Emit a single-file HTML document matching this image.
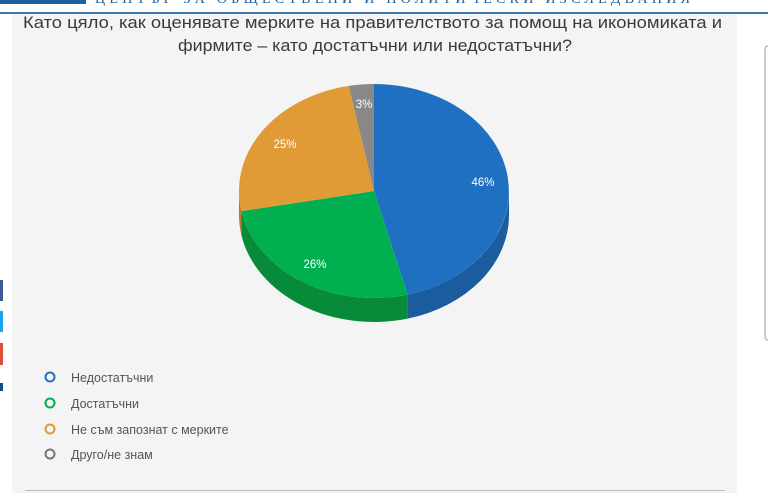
<!DOCTYPE html>
<html><head><meta charset="utf-8"><style>
html,body{margin:0;padding:0;background:#fff;width:768px;height:493px;overflow:hidden}
svg{display:block}
</style></head><body>
<svg width="768" height="493" viewBox="0 0 768 493" xmlns="http://www.w3.org/2000/svg">
<rect x="12" y="14" width="725" height="479" fill="#f4f4f4"/>
<rect x="0" y="0" width="86" height="4" fill="#1f5f99"/>
<text x="95" y="3" font-family="Liberation Serif, serif" font-size="14" fill="#1f5f99" textLength="595">ЦЕНТЪР ЗА ОБЩЕСТВЕНИ И ПОЛИТИЧЕСКИ ИЗСЛЕДВАНИЯ</text>
<rect x="0" y="12" width="768" height="2" fill="#3a78b0"/>
<text x="23" y="28" font-family="Liberation Sans Narrow, Liberation Sans, sans-serif" font-size="17" fill="#3a3a3a" textLength="699" lengthAdjust="spacingAndGlyphs">Като цяло, как оценявате мерките на правителството за помощ на икономиката и</text>
<text x="178" y="51" font-family="Liberation Sans Narrow, Liberation Sans, sans-serif" font-size="17" fill="#3a3a3a" textLength="394" lengthAdjust="spacingAndGlyphs">фирмите – като достатъчни или недостатъчни?</text>
<path d="M768,46 Q765,46 765,50 L765,336 Q765,340 768,340" fill="none" stroke="#bbb" stroke-width="1.5"/>
<rect x="0" y="280" width="3" height="21" fill="#3b5998"/>
<rect x="0" y="311" width="3" height="21" fill="#1da1f2"/>
<rect x="0" y="343" width="3" height="22" fill="#dd4b39"/>
<rect x="0" y="383" width="3" height="8" fill="#0e4f8f"/>
<path d="M509,191 A135,107 0 0 1 407.6,294.6 L407.6,318.6 A135,107 0 0 0 509,215 Z" fill="#1b5c9e"/>
<path d="M407.6,294.6 A135,107 0 0 1 241.4,211.1 L241.4,235.1 A135,107 0 0 0 407.6,318.6 Z" fill="#078a3a"/>
<path d="M241.4,211.1 A135,107 0 0 1 239,191 L239,215 A135,107 0 0 0 241.4,235.1 Z" fill="#b57a25"/>
<path d="M374,191 L374,84 A135,107 0 0 1 407.6,294.6 Z" fill="#1f70c0"/>
<path d="M374,191 L407.6,294.6 A135,107 0 0 1 241.4,211.1 Z" fill="#00b050"/>
<path d="M374,191 L241.4,211.1 A135,107 0 0 1 348.7,85.9 Z" fill="#e09b36"/>
<path d="M374,191 L348.7,85.9 A135,107 0 0 1 374,84 Z" fill="#888888"/>
<g font-family="Liberation Sans, sans-serif" font-size="11.5" fill="#fff" text-anchor="middle">
<text x="483" y="186">46%</text>
<text x="315" y="268">26%</text>
<text x="285" y="148">25%</text>
<text x="364" y="108">3%</text>
</g>
<g fill="none" stroke-width="2">
<circle cx="50" cy="377" r="4.5" stroke="#1f70c0"/>
<circle cx="50" cy="403" r="4.5" stroke="#00b050"/>
<circle cx="50" cy="429" r="4.5" stroke="#e09b36"/>
<circle cx="50" cy="454" r="4.5" stroke="#777"/>
</g>
<g font-family="Liberation Sans, sans-serif" font-size="12.5" fill="#555">
<text x="71" y="382">Недостатъчни</text>
<text x="71" y="408">Достатъчни</text>
<text x="71" y="434">Не съм запознат с мерките</text>
<text x="71" y="459">Друго/не знам</text>
</g>
<rect x="25" y="490" width="700" height="1" fill="#bbb"/>
</svg>
</body></html>
